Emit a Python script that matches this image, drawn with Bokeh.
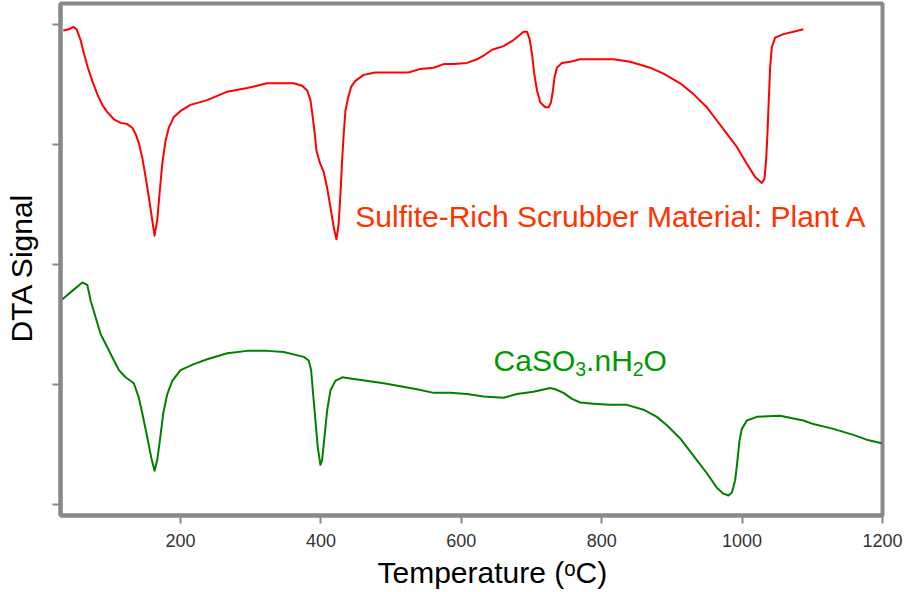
from bokeh.plotting import figure
from bokeh.models import Range1d, FixedTicker, CustomJSTickFormatter, Label
from bokeh.embed import file_html
from bokeh.resources import INLINE

# ---- data ----
red_T = [33, 41, 47.3, 52, 57.6, 62.3, 68, 74.3, 81.4, 88.5,
         95.7, 105.1, 114.6, 124.1, 131.2, 135.9, 140.6, 145.5, 150.2, 154.9,
         159.7, 163, 166.8, 170.1, 174, 178.6, 183.3, 190.5, 200, 214.2,
         238, 266.5, 294.9, 323.4, 347, 361.3, 373.2, 380.4, 385.1, 388.3,
         391.2, 393.6, 398.3, 404, 408.8, 413.5, 418.2, 422.1, 425.3, 427.8,
         430.2, 432.5, 434.9, 438.7, 443, 449.1, 460.9, 477.6, 508.5, 525,
         541.6, 560.6, 574.8, 589, 608.1, 622.3, 631.7, 643.7, 660.2, 674.5,
         688.7, 693.5, 697.2, 700.6, 703.9, 707.8, 712.5, 719.6, 724.3, 727.7,
         730.5, 732.8, 736.2, 743.3, 755.2, 769.4, 797.9, 816.8, 840.6, 869,
         888, 911.8, 930.7, 949.8, 964, 978.2, 992.5, 1006.7, 1018.5, 1028.1,
         1031.8, 1034.2, 1036.1, 1038, 1039.9, 1042.3, 1047, 1058.8, 1073.1, 1087.3]
red_S = [3.95, 3.96, 3.98, 3.96, 3.87, 3.76, 3.64, 3.53, 3.42, 3.33,
         3.27, 3.21, 3.18, 3.17, 3.14, 3.09, 3.01, 2.89, 2.73, 2.56,
         2.37, 2.24, 2.37, 2.59, 2.84, 3.03, 3.14, 3.23, 3.28, 3.33,
         3.37, 3.44, 3.47, 3.51, 3.51, 3.51, 3.49, 3.45, 3.37, 3.23,
         3.09, 2.95, 2.85, 2.77, 2.64, 2.48, 2.31, 2.21, 2.34, 2.59,
         2.87, 3.09, 3.28, 3.39, 3.48, 3.53, 3.58, 3.60, 3.60, 3.60,
         3.63, 3.64, 3.67, 3.67, 3.68, 3.71, 3.74, 3.79, 3.82, 3.87,
         3.94, 3.94, 3.88, 3.76, 3.59, 3.45, 3.35, 3.31, 3.31, 3.35,
         3.45, 3.56, 3.64, 3.68, 3.69, 3.71, 3.71, 3.71, 3.69, 3.64,
         3.59, 3.51, 3.42, 3.31, 3.20, 3.09, 2.98, 2.84, 2.73, 2.68,
         2.71, 2.87, 3.09, 3.37, 3.64, 3.81, 3.89, 3.92, 3.94, 3.96]

green_T = [29.2, 31.6, 45.8, 60.1, 67.2, 71.9, 79, 86.1, 95.7, 105.1,
           112.2, 121.7, 133.5, 140.6, 145.5, 152.6, 158.3, 163, 166.8, 170.5,
           175.4, 181.1, 188.2, 200, 218.9, 238, 266.5, 294.9, 323.4, 347,
           375.5, 382.6, 386, 388.9, 392.2, 395.4, 399.3, 401.7, 405, 408.8,
           413.5, 420.6, 430.2, 442, 489.4, 536.9, 560.6, 584.3, 608.1, 631.7,
           660.2, 679.3, 702.9, 726.7, 733.8, 745.6, 757.6, 769.4, 788.3, 812.1,
           835.9, 859.5, 878.6, 892.8, 911.8, 935.5, 949.8, 964, 973.4, 980.5,
           985.4, 990.1, 993.4, 996.2, 999.6, 1006.7, 1021, 1054.1, 1087.3, 1101.5,
           1130, 1158.4, 1177.5, 1198.8]
green_S = [1.72, 1.71, 1.78, 1.85, 1.83, 1.70, 1.56, 1.42, 1.31, 1.20,
           1.12, 1.06, 1.01, 0.89, 0.76, 0.56, 0.39, 0.28, 0.37, 0.53,
           0.76, 0.92, 1.03, 1.12, 1.17, 1.21, 1.26, 1.28, 1.28, 1.27,
           1.23, 1.20, 1.12, 0.92, 0.70, 0.48, 0.33, 0.37, 0.56, 0.78,
           0.95, 1.03, 1.06, 1.05, 1.01, 0.96, 0.93, 0.93, 0.92, 0.90,
           0.89, 0.92, 0.94, 0.97, 0.96, 0.93, 0.88, 0.85, 0.84, 0.83,
           0.83, 0.79, 0.73, 0.66, 0.55, 0.37, 0.26, 0.14, 0.09, 0.075,
           0.10, 0.20, 0.37, 0.53, 0.63, 0.70, 0.73, 0.74, 0.70, 0.67,
           0.63, 0.58, 0.54, 0.51]

x_ticks = [200, 400, 600, 800, 1000, 1200]
y_ticks = [0, 1, 2, 3, 4]

FONT = "Liberation Sans"
FRAME = "#888888"
NB = "\u00a0"

p = figure(width=905, height=592, output_backend="svg", toolbar_location=None,
           x_range=Range1d(29, 1200), y_range=Range1d(-0.092, 4.175),
           min_border_left=60, min_border_right=23, min_border_top=3, min_border_bottom=77)
p.background_fill_color = "white"
p.border_fill_color = "white"
p.outline_line_color = FRAME
p.outline_line_width = 4
p.xgrid.visible = False
p.ygrid.visible = False

p.line(red_T, red_S, line_color="#ff0000", line_width=2, line_join="round")
p.line(green_T, green_S, line_color="#008000", line_width=2, line_join="round")

for ax in (p.xaxis[0], p.yaxis[0]):
    ax.axis_line_color = FRAME
    ax.axis_line_width = 4
    ax.major_tick_line_color = FRAME
    ax.major_tick_line_width = 2
    ax.major_tick_out = 8
    ax.major_tick_in = 0
    ax.minor_tick_line_color = None
    ax.axis_label_text_font = FONT
    ax.axis_label_text_font_size = "30px"
    ax.axis_label_text_font_style = "normal"
    ax.axis_label_text_color = "#000000"

p.xaxis.ticker = FixedTicker(ticks=x_ticks)
p.xaxis.major_label_text_font = FONT
p.xaxis.major_label_text_font_size = "18px"
p.xaxis.major_label_text_color = "#333333"
p.xaxis.major_label_standoff = 10
p.xaxis.axis_label = NB * 5 + "Temperature (\u1d52C)"
p.xaxis.axis_label_standoff = 6

p.yaxis.ticker = FixedTicker(ticks=y_ticks)
p.yaxis.formatter = CustomJSTickFormatter(code="return '';")
p.yaxis.axis_label = "DTA Signal" + NB * 2
p.yaxis.axis_label_standoff = 15

def lab(text, x, y, size, color, dx=0, dy=0):
    p.add_layout(Label(x=x, y=y, text=text, x_offset=dx, y_offset=dy,
                       text_font=FONT, text_font_size=size, text_color=color,
                       text_align="left", text_baseline="alphabetic"))

# series labels
lab("Sulfite-Rich Scrubber Material: Plant A", 449, 2.40, "30px", "#ff3300")
gx, gy = 646, 1.20
lab("CaSO", gx, gy, "30px", "#009900")
lab("3", gx, gy, "19.5px", "#009900", dx=81.7, dy=-9)
lab(".nH", gx, gy, "30px", "#009900", dx=92.5)
lab("2", gx, gy, "19.5px", "#009900", dx=139.2, dy=-9)
lab("O", gx, gy, "30px", "#009900", dx=150)

open("out.html", "w").write(file_html(p, INLINE))
